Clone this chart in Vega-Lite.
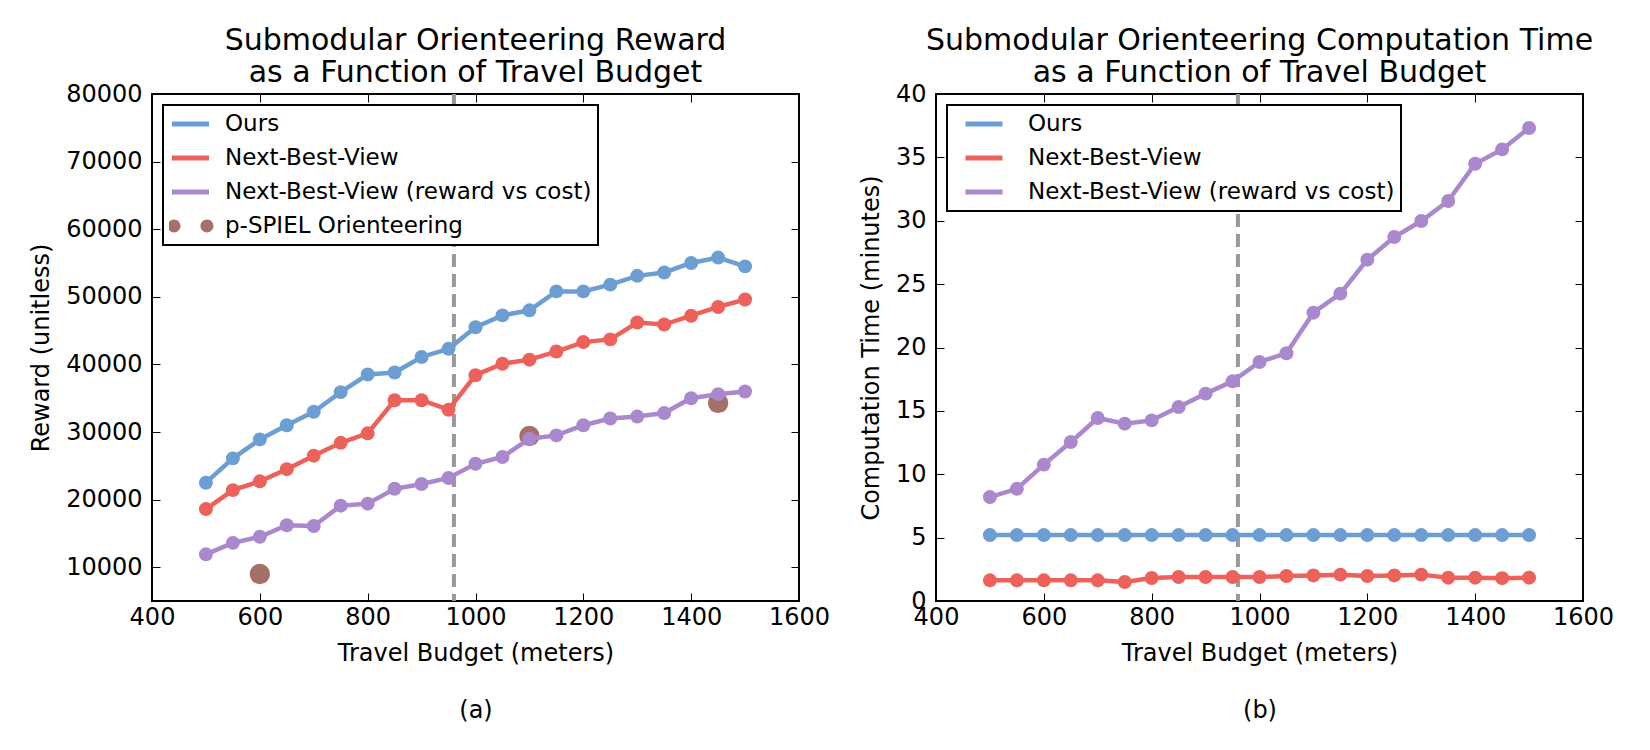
{
  "$schema": "https://vega.github.io/schema/vega-lite/v6.json",
  "background": "white",
  "padding": {"left": 28, "top": 25, "right": 5, "bottom": 5},
  "datasets": {
    "budgetLine": [{"budget": 960}],
    "pspiel": [
      {"budget": 600, "value": 9000},
      {"budget": 1100, "value": 29400},
      {"budget": 1450, "value": 34300}
    ],
    "reward": [
      {"budget": 500, "series": "Ours", "value": 22500},
      {"budget": 550, "series": "Ours", "value": 26100},
      {"budget": 600, "series": "Ours", "value": 28900},
      {"budget": 650, "series": "Ours", "value": 31000},
      {"budget": 700, "series": "Ours", "value": 33000},
      {"budget": 750, "series": "Ours", "value": 35900},
      {"budget": 800, "series": "Ours", "value": 38500},
      {"budget": 850, "series": "Ours", "value": 38800},
      {"budget": 900, "series": "Ours", "value": 41100},
      {"budget": 950, "series": "Ours", "value": 42300},
      {"budget": 1000, "series": "Ours", "value": 45500},
      {"budget": 1050, "series": "Ours", "value": 47250},
      {"budget": 1100, "series": "Ours", "value": 48000},
      {"budget": 1150, "series": "Ours", "value": 50800},
      {"budget": 1200, "series": "Ours", "value": 50800},
      {"budget": 1250, "series": "Ours", "value": 51800},
      {"budget": 1300, "series": "Ours", "value": 53100},
      {"budget": 1350, "series": "Ours", "value": 53600},
      {"budget": 1400, "series": "Ours", "value": 55000},
      {"budget": 1450, "series": "Ours", "value": 55800},
      {"budget": 1500, "series": "Ours", "value": 54500},
      {"budget": 500, "series": "Next-Best-View", "value": 18600},
      {"budget": 550, "series": "Next-Best-View", "value": 21400},
      {"budget": 600, "series": "Next-Best-View", "value": 22700},
      {"budget": 650, "series": "Next-Best-View", "value": 24500},
      {"budget": 700, "series": "Next-Best-View", "value": 26500},
      {"budget": 750, "series": "Next-Best-View", "value": 28400},
      {"budget": 800, "series": "Next-Best-View", "value": 29800},
      {"budget": 850, "series": "Next-Best-View", "value": 34700},
      {"budget": 900, "series": "Next-Best-View", "value": 34700},
      {"budget": 950, "series": "Next-Best-View", "value": 33300},
      {"budget": 1000, "series": "Next-Best-View", "value": 38400},
      {"budget": 1050, "series": "Next-Best-View", "value": 40100},
      {"budget": 1100, "series": "Next-Best-View", "value": 40700},
      {"budget": 1150, "series": "Next-Best-View", "value": 41900},
      {"budget": 1200, "series": "Next-Best-View", "value": 43300},
      {"budget": 1250, "series": "Next-Best-View", "value": 43700},
      {"budget": 1300, "series": "Next-Best-View", "value": 46200},
      {"budget": 1350, "series": "Next-Best-View", "value": 45900},
      {"budget": 1400, "series": "Next-Best-View", "value": 47200},
      {"budget": 1450, "series": "Next-Best-View", "value": 48500},
      {"budget": 1500, "series": "Next-Best-View", "value": 49600},
      {"budget": 500, "series": "Next-Best-View (reward vs cost)", "value": 11900},
      {"budget": 550, "series": "Next-Best-View (reward vs cost)", "value": 13600},
      {"budget": 600, "series": "Next-Best-View (reward vs cost)", "value": 14500},
      {"budget": 650, "series": "Next-Best-View (reward vs cost)", "value": 16200},
      {"budget": 700, "series": "Next-Best-View (reward vs cost)", "value": 16100},
      {"budget": 750, "series": "Next-Best-View (reward vs cost)", "value": 19100},
      {"budget": 800, "series": "Next-Best-View (reward vs cost)", "value": 19400},
      {"budget": 850, "series": "Next-Best-View (reward vs cost)", "value": 21600},
      {"budget": 900, "series": "Next-Best-View (reward vs cost)", "value": 22300},
      {"budget": 950, "series": "Next-Best-View (reward vs cost)", "value": 23200},
      {"budget": 1000, "series": "Next-Best-View (reward vs cost)", "value": 25300},
      {"budget": 1050, "series": "Next-Best-View (reward vs cost)", "value": 26300},
      {"budget": 1100, "series": "Next-Best-View (reward vs cost)", "value": 29000},
      {"budget": 1150, "series": "Next-Best-View (reward vs cost)", "value": 29500},
      {"budget": 1200, "series": "Next-Best-View (reward vs cost)", "value": 31000},
      {"budget": 1250, "series": "Next-Best-View (reward vs cost)", "value": 32000},
      {"budget": 1300, "series": "Next-Best-View (reward vs cost)", "value": 32300},
      {"budget": 1350, "series": "Next-Best-View (reward vs cost)", "value": 32800},
      {"budget": 1400, "series": "Next-Best-View (reward vs cost)", "value": 35000},
      {"budget": 1450, "series": "Next-Best-View (reward vs cost)", "value": 35600},
      {"budget": 1500, "series": "Next-Best-View (reward vs cost)", "value": 36000}
    ],
    "time": [
      {"budget": 500, "series": "Ours", "value": 5.2},
      {"budget": 550, "series": "Ours", "value": 5.2},
      {"budget": 600, "series": "Ours", "value": 5.2},
      {"budget": 650, "series": "Ours", "value": 5.2},
      {"budget": 700, "series": "Ours", "value": 5.2},
      {"budget": 750, "series": "Ours", "value": 5.2},
      {"budget": 800, "series": "Ours", "value": 5.2},
      {"budget": 850, "series": "Ours", "value": 5.2},
      {"budget": 900, "series": "Ours", "value": 5.2},
      {"budget": 950, "series": "Ours", "value": 5.2},
      {"budget": 1000, "series": "Ours", "value": 5.2},
      {"budget": 1050, "series": "Ours", "value": 5.2},
      {"budget": 1100, "series": "Ours", "value": 5.2},
      {"budget": 1150, "series": "Ours", "value": 5.2},
      {"budget": 1200, "series": "Ours", "value": 5.2},
      {"budget": 1250, "series": "Ours", "value": 5.2},
      {"budget": 1300, "series": "Ours", "value": 5.2},
      {"budget": 1350, "series": "Ours", "value": 5.2},
      {"budget": 1400, "series": "Ours", "value": 5.2},
      {"budget": 1450, "series": "Ours", "value": 5.2},
      {"budget": 1500, "series": "Ours", "value": 5.2},
      {"budget": 500, "series": "Next-Best-View", "value": 1.63},
      {"budget": 550, "series": "Next-Best-View", "value": 1.63},
      {"budget": 600, "series": "Next-Best-View", "value": 1.63},
      {"budget": 650, "series": "Next-Best-View", "value": 1.63},
      {"budget": 700, "series": "Next-Best-View", "value": 1.63},
      {"budget": 750, "series": "Next-Best-View", "value": 1.5},
      {"budget": 800, "series": "Next-Best-View", "value": 1.81},
      {"budget": 850, "series": "Next-Best-View", "value": 1.89},
      {"budget": 900, "series": "Next-Best-View", "value": 1.89},
      {"budget": 950, "series": "Next-Best-View", "value": 1.89},
      {"budget": 1000, "series": "Next-Best-View", "value": 1.89},
      {"budget": 1050, "series": "Next-Best-View", "value": 1.97},
      {"budget": 1100, "series": "Next-Best-View", "value": 2.02},
      {"budget": 1150, "series": "Next-Best-View", "value": 2.08},
      {"budget": 1200, "series": "Next-Best-View", "value": 1.97},
      {"budget": 1250, "series": "Next-Best-View", "value": 2.02},
      {"budget": 1300, "series": "Next-Best-View", "value": 2.08},
      {"budget": 1350, "series": "Next-Best-View", "value": 1.84},
      {"budget": 1400, "series": "Next-Best-View", "value": 1.84},
      {"budget": 1450, "series": "Next-Best-View", "value": 1.8},
      {"budget": 1500, "series": "Next-Best-View", "value": 1.84},
      {"budget": 500, "series": "Next-Best-View (reward vs cost)", "value": 8.2},
      {"budget": 550, "series": "Next-Best-View (reward vs cost)", "value": 8.85},
      {"budget": 600, "series": "Next-Best-View (reward vs cost)", "value": 10.76},
      {"budget": 650, "series": "Next-Best-View (reward vs cost)", "value": 12.54},
      {"budget": 700, "series": "Next-Best-View (reward vs cost)", "value": 14.44},
      {"budget": 750, "series": "Next-Best-View (reward vs cost)", "value": 13.99},
      {"budget": 800, "series": "Next-Best-View (reward vs cost)", "value": 14.25},
      {"budget": 850, "series": "Next-Best-View (reward vs cost)", "value": 15.3},
      {"budget": 900, "series": "Next-Best-View (reward vs cost)", "value": 16.36},
      {"budget": 950, "series": "Next-Best-View (reward vs cost)", "value": 17.33},
      {"budget": 1000, "series": "Next-Best-View (reward vs cost)", "value": 18.86},
      {"budget": 1050, "series": "Next-Best-View (reward vs cost)", "value": 19.55},
      {"budget": 1100, "series": "Next-Best-View (reward vs cost)", "value": 22.75},
      {"budget": 1150, "series": "Next-Best-View (reward vs cost)", "value": 24.25},
      {"budget": 1200, "series": "Next-Best-View (reward vs cost)", "value": 26.93},
      {"budget": 1250, "series": "Next-Best-View (reward vs cost)", "value": 28.72},
      {"budget": 1300, "series": "Next-Best-View (reward vs cost)", "value": 29.98},
      {"budget": 1350, "series": "Next-Best-View (reward vs cost)", "value": 31.56},
      {"budget": 1400, "series": "Next-Best-View (reward vs cost)", "value": 34.5},
      {"budget": 1450, "series": "Next-Best-View (reward vs cost)", "value": 35.63},
      {"budget": 1500, "series": "Next-Best-View (reward vs cost)", "value": 37.32}
    ]
  },
  "config": {
    "font": "DejaVu Sans",
    "view": {"stroke": "black", "strokeWidth": 2},
    "axis": {
      "labelFont": "DejaVu Sans", "labelFontSize": 24, "labelColor": "black",
      "titleFont": "DejaVu Sans", "titleFontSize": 24, "titleFontWeight": "normal", "titleColor": "black",
      "domain": false, "grid": false, "tickColor": "black", "tickWidth": 1, "tickSize": -8,
      "labelFlush": false, "labelOverlap": false
    },
    "title": {"font": "DejaVu Sans", "fontSize": 30, "fontWeight": "normal", "color": "black", "lineHeight": 32, "offset": -6, "anchor": "middle"},
    "legend": {
      "title": null, "orient": "top-left", "offset": 11,
      "labelFont": "DejaVu Sans", "labelFontSize": 23, "labelColor": "black", "labelLimit": 0,
      "symbolSize": 1369, "clipHeight": 26, "rowPadding": 8, "padding": 6,
      "labelOffset": 33, "strokeColor": "black", "fillColor": "white"
    }
  },
  "spacing": 27,
  "resolve": {"scale": {"color": "independent"}, "legend": {"color": "independent"}},
  "hconcat": [
    {
      "width": 647, "height": 507,
      "title": {"text": ["Submodular Orienteering Reward", "as a Function of Travel Budget"]},
      "resolve": {"axis": {"x": "independent", "y": "independent"}},
      "layer": [
        {
          "data": {"name": "budgetLine"},
          "mark": {"type": "rule", "color": "#999999", "strokeWidth": 4, "strokeDash": [13, 7]},
          "encoding": {
            "x": {"field": "budget", "type": "quantitative", "scale": {"domain": [400, 1600], "nice": false, "zero": false}, "axis": null}
          }
        },
        {
          "data": {"name": "pspiel"},
          "mark": {"type": "circle", "size": 415, "color": "#A37168", "opacity": 1},
          "encoding": {
            "x": {"field": "budget", "type": "quantitative", "scale": {"domain": [400, 1600], "nice": false, "zero": false}, "axis": null},
            "y": {"field": "value", "type": "quantitative", "scale": {"domain": [5000, 80000], "nice": false, "zero": false}, "axis": null}
          }
        },
        {
          "data": {"name": "reward"},
          "mark": {"type": "line", "strokeWidth": 4.5},
          "encoding": {
            "x": {"field": "budget", "type": "quantitative", "scale": {"domain": [400, 1600], "nice": false, "zero": false},
              "axis": {"orient": "bottom", "values": [400, 600, 800, 1000, 1200, 1400, 1600], "format": "d", "labelPadding": 12,
                "title": ["Travel Budget (meters)", "(a)"], "titleLineHeight": 57, "titlePadding": 12}},
            "y": {"field": "value", "type": "quantitative", "scale": {"domain": [5000, 80000], "nice": false, "zero": false},
              "axis": {"orient": "left", "values": [10000, 20000, 30000, 40000, 50000, 60000, 70000, 80000], "format": "d", "labelPadding": 18,
                "title": "Reward (unitless)", "titlePadding": 12}},
            "color": {"field": "series", "type": "nominal",
              "scale": {"domain": ["Ours", "Next-Best-View", "Next-Best-View (reward vs cost)", "p-SPIEL Orienteering"], "range": ["#6C9ED3", "#EE615A", "#AA88CE", "#A37168"]},
              "legend": {
                "encode": {
                  "legend": {"update": {"strokeWidth": {"value": 2}}},
                  "symbols": {"update": {
                    "shape": {"signal": "datum.value == 'p-SPIEL Orienteering' ? 'M-0.7,0a0.35,0.35 0 1,0 0.7,0a0.35,0.35 0 1,0 -0.7,0ZM1.08,0a0.35,0.35 0 1,0 0.7,0a0.35,0.35 0 1,0 -0.7,0Z' : 'M-0.46,0L1.54,0'"},
                    "strokeWidth": {"signal": "datum.value == 'p-SPIEL Orienteering' ? 0 : 5"},
                    "fill": {"signal": "datum.value == 'p-SPIEL Orienteering' ? '#A37168' : 'transparent'"},
                    "opacity": {"value": 1}
                  }}
                }
              }}
          }
        },
        {
          "data": {"name": "reward"},
          "mark": {"type": "point", "filled": true, "size": 195, "opacity": 1},
          "encoding": {
            "x": {"field": "budget", "type": "quantitative", "scale": {"domain": [400, 1600], "nice": false, "zero": false},
              "axis": {"orient": "top", "values": [400, 600, 800, 1000, 1200, 1400, 1600], "labels": false, "title": null, "minExtent": 0}},
            "y": {"field": "value", "type": "quantitative", "scale": {"domain": [5000, 80000], "nice": false, "zero": false},
              "axis": {"orient": "right", "values": [10000, 20000, 30000, 40000, 50000, 60000, 70000, 80000], "labels": false, "title": null, "minExtent": 0}},
            "color": {"field": "series", "type": "nominal",
              "scale": {"domain": ["Ours", "Next-Best-View", "Next-Best-View (reward vs cost)", "p-SPIEL Orienteering"], "range": ["#6C9ED3", "#EE615A", "#AA88CE", "#A37168"]},
              "legend": null}
          }
        }
      ]
    },
    {
      "width": 647, "height": 507,
      "title": {"text": ["Submodular Orienteering Computation Time", "as a Function of Travel Budget"]},
      "resolve": {"axis": {"x": "independent", "y": "independent"}},
      "layer": [
        {
          "data": {"name": "budgetLine"},
          "mark": {"type": "rule", "color": "#999999", "strokeWidth": 4, "strokeDash": [13, 7]},
          "encoding": {
            "x": {"field": "budget", "type": "quantitative", "scale": {"domain": [400, 1600], "nice": false, "zero": false}, "axis": null}
          }
        },
        {
          "data": {"name": "time"},
          "mark": {"type": "line", "strokeWidth": 4.5},
          "encoding": {
            "x": {"field": "budget", "type": "quantitative", "scale": {"domain": [400, 1600], "nice": false, "zero": false},
              "axis": {"orient": "bottom", "values": [400, 600, 800, 1000, 1200, 1400, 1600], "format": "d", "labelPadding": 12,
                "title": ["Travel Budget (meters)", "(b)"], "titleLineHeight": 57, "titlePadding": 12}},
            "y": {"field": "value", "type": "quantitative", "scale": {"domain": [0, 40], "nice": false, "zero": false},
              "axis": {"orient": "left", "values": [0, 5, 10, 15, 20, 25, 30, 35, 40], "format": "d", "labelPadding": 18,
                "title": "Computation Time (minutes)", "titlePadding": 12}},
            "color": {"field": "series", "type": "nominal",
              "scale": {"domain": ["Ours", "Next-Best-View", "Next-Best-View (reward vs cost)"], "range": ["#6C9ED3", "#EE615A", "#AA88CE"]},
              "legend": {
                "encode": {
                  "legend": {"update": {"strokeWidth": {"value": 2}}},
                  "symbols": {"update": {"shape": {"value": "M-0.46,0L1.54,0"}, "strokeWidth": {"value": 5}, "fill": {"value": "transparent"}, "opacity": {"value": 1}}}
                }
              }}
          }
        },
        {
          "data": {"name": "time"},
          "mark": {"type": "point", "filled": true, "size": 195, "opacity": 1},
          "encoding": {
            "x": {"field": "budget", "type": "quantitative", "scale": {"domain": [400, 1600], "nice": false, "zero": false},
              "axis": {"orient": "top", "values": [400, 600, 800, 1000, 1200, 1400, 1600], "labels": false, "title": null, "minExtent": 0}},
            "y": {"field": "value", "type": "quantitative", "scale": {"domain": [0, 40], "nice": false, "zero": false},
              "axis": {"orient": "right", "values": [0, 5, 10, 15, 20, 25, 30, 35, 40], "labels": false, "title": null, "minExtent": 0}},
            "color": {"field": "series", "type": "nominal",
              "scale": {"domain": ["Ours", "Next-Best-View", "Next-Best-View (reward vs cost)"], "range": ["#6C9ED3", "#EE615A", "#AA88CE"]},
              "legend": null}
          }
        }
      ]
    }
  ]
}
